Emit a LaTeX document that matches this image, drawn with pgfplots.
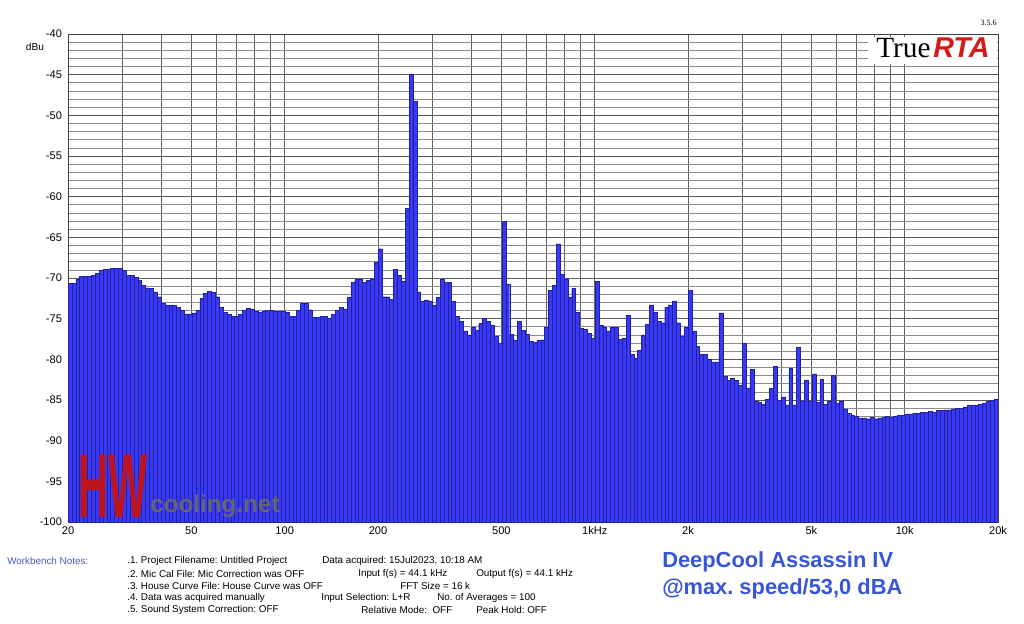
\documentclass[border=0pt]{standalone}
\usepackage{fontspec}
\setmainfont{Liberation Sans}
\newfontfamily\seriffont{Liberation Serif}
\usepackage{graphicx}
\usepackage{pgfplots}
\pgfplotsset{compat=1.18}
\usepackage{pgfplotstable}

\definecolor{barfill}{RGB}{56,56,248}
\definecolor{baredge}{RGB}{34,34,150}
\definecolor{notesblue}{RGB}{70,90,190}
\definecolor{titleblue}{RGB}{55,85,215}
\definecolor{rtared}{RGB}{215,25,25}
\definecolor{hwred}{RGB}{190,20,30}
\definecolor{hwgray}{RGB}{100,100,115}

% band index k (1/24 octave, 80 bands per decade from 20 Hz) and level in dBu
\pgfplotstableread{
k v
0 -70.7
1 -70.7
2 -70.2
3 -69.8
4 -69.8
5 -69.8
6 -69.7
7 -69.4
8 -69.1
9 -68.9
10 -68.9
11 -68.8
12 -68.8
13 -68.8
14 -69.1
15 -69.7
16 -69.7
17 -69.9
18 -70.3
19 -70.9
20 -71.2
21 -71.3
22 -71.7
23 -72.3
24 -73.1
25 -73.3
26 -73.3
27 -73.4
28 -73.6
29 -74.0
30 -74.4
31 -74.4
32 -74.3
33 -74.0
34 -72.5
35 -71.9
36 -71.6
37 -71.8
38 -72.3
39 -73.6
40 -74.2
41 -74.5
42 -74.7
43 -74.7
44 -74.5
45 -74.0
46 -73.7
47 -73.8
48 -74.1
49 -74.2
50 -74.1
51 -74.0
52 -74.0
53 -74.1
54 -74.1
55 -74.1
56 -74.2
57 -74.7
58 -74.7
59 -74.0
60 -73.1
61 -73.1
62 -73.9
63 -74.8
64 -74.8
65 -74.7
66 -74.7
67 -75.0
68 -74.5
69 -74.0
70 -73.6
71 -73.8
72 -72.4
73 -70.5
74 -70.2
75 -70.2
76 -70.5
77 -70.3
78 -70.1
79 -68.1
80 -66.4
81 -72.3
82 -72.3
83 -72.6
84 -68.9
85 -69.7
86 -70.4
87 -61.4
88 -44.9
89 -48.3
90 -71.7
91 -72.9
92 -72.7
93 -72.8
94 -73.4
95 -72.4
96 -70.2
97 -70.5
98 -70.5
99 -72.9
100 -74.7
101 -75.3
102 -76.5
103 -77.0
104 -76.1
105 -76.4
106 -75.6
107 -75.0
108 -75.3
109 -75.8
110 -77.2
111 -78.0
112 -63.0
113 -70.8
114 -76.9
115 -77.7
116 -75.3
117 -76.4
118 -76.9
119 -77.8
120 -77.9
121 -77.6
122 -77.6
123 -76.0
124 -71.5
125 -70.9
126 -65.8
127 -69.5
128 -70.2
129 -72.4
130 -71.3
131 -74.2
132 -76.2
133 -76.3
134 -76.8
135 -77.4
136 -70.4
137 -75.8
138 -76.0
139 -76.5
140 -76.1
141 -76.0
142 -77.5
143 -77.4
144 -74.6
145 -79.4
146 -79.9
147 -78.9
148 -77.0
149 -75.7
150 -73.3
151 -74.2
152 -75.3
153 -75.5
154 -73.6
155 -73.3
156 -72.8
157 -75.5
158 -77.1
159 -76.1
160 -71.5
161 -76.5
162 -78.4
163 -79.4
164 -79.4
165 -80.0
166 -80.3
167 -80.3
168 -74.3
169 -82.1
170 -82.6
171 -82.3
172 -82.6
173 -83.2
174 -78.0
175 -83.5
176 -81.2
177 -85.1
178 -85.3
179 -85.5
180 -84.9
181 -83.6
182 -80.9
183 -85.0
184 -84.6
185 -85.6
186 -81.1
187 -85.6
188 -78.5
189 -85.1
190 -82.6
191 -85.1
192 -81.8
193 -85.3
194 -82.5
195 -85.5
196 -85.2
197 -82.0
198 -85.4
199 -85.1
200 -86.1
201 -86.6
202 -86.9
203 -87.0
204 -87.2
205 -87.2
206 -87.3
207 -87.1
208 -87.3
209 -87.2
210 -87.1
211 -87.0
212 -87.1
213 -87.0
214 -86.9
215 -86.9
216 -86.7
217 -86.7
218 -86.6
219 -86.6
220 -86.5
221 -86.5
222 -86.4
223 -86.5
224 -86.3
225 -86.3
226 -86.2
227 -86.2
228 -86.1
229 -86.0
230 -86.0
231 -85.9
232 -85.6
233 -85.7
234 -85.6
235 -85.5
236 -85.4
237 -85.2
238 -85.0
239 -84.9
240 -84.9
}\spectrum

\begin{document}
\frenchspacing
\begin{tikzpicture}
\useasboundingbox (0,0) rectangle (768pt,-468pt);
\begin{axis}[
  at={(51pt,-391.5pt)}, anchor=south west,
  scale only axis, width=697.5pt, height=366pt,
  xmode=log, xmin=20, xmax=20000,
  ymin=-100, ymax=-40,
  y coord trafo/.code={\pgfmathparse{#1+100}},
  y coord inv trafo/.code={\pgfmathparse{#1-100}},
  ytick={-100,-95,-90,-85,-80,-75,-70,-65,-60,-55,-50,-45,-40},
  yticklabels={-100,-95,-90,-85,-80,-75,-70,-65,-60,-55,-50,-45,-40},
  minor ytick={-99,-98,-97,-96,-94,-93,-92,-91,-89,-88,-87,-86,-84,-83,-82,-81,-79,-78,-77,-76,-74,-73,-72,-71,-69,-68,-67,-66,-64,-63,-62,-61,-59,-58,-57,-56,-54,-53,-52,-51,-49,-48,-47,-46,-44,-43,-42,-41},
  xtick={20,50,100,200,500,1000,2000,5000,10000,20000},
  xticklabels={20,50,100,200,500,1kHz,2k,5k,10k,20k},
  minor xtick={30,40,60,70,80,90,300,400,600,700,800,900,3000,4000,6000,7000,8000,9000},
  grid=both,
  major x grid style={black!62,line width=0.55pt},
  minor x grid style={black!62,line width=0.55pt},
  major y grid style={black!65,line width=0.55pt},
  minor y grid style={black!45,line width=0.5pt},
  tick style={draw=none},
  axis line style={black!75,line width=0.6pt},
  tick label style={font=\fontsize{8.3pt}{10pt}\selectfont},
  yticklabel style={xshift=-1pt},
]
\addplot[ybar interval, fill=barfill, draw=baredge, line width=0.3pt]
  table[x expr={20*10^(\thisrow{k}/80)}, y=v]{\spectrum};
\end{axis}

\begin{scope}[x=0.75pt,y=-0.75pt]
\node[font=\fontsize{7.6pt}{9pt}\selectfont] at (35,47) {dBu};
\node[anchor=south east, inner sep=0, font=\seriffont\fontsize{6pt}{7pt}\selectfont] at (997,26) {3.5.6};
\fill[white] (868,37) rectangle (997,64);
\node[anchor=base west, inner sep=0, font=\seriffont\fontsize{22pt}{22pt}\selectfont] at (876,58) {True};
\node[anchor=base west, inner sep=0, font=\fontsize{21.5pt}{22pt}\selectfont\bfseries\itshape, text=rtared] at (933,58) {RTA};

\node[anchor=north west, inner sep=0, text=hwred] at (78,455) {\resizebox{52pt}{47pt}{\bfseries HW}};
\node[anchor=base west, inner sep=0, text=hwgray] at (150,512) {\resizebox{97pt}{!}{\bfseries cooling.net}};

\begin{scope}[every node/.style={anchor=west, inner sep=0, font=\fontsize{7.4pt}{9pt}\selectfont}]
\node[text=notesblue] at (7,561) {Workbench Notes:};
\node at (127,561) {.1. Project Filename: Untitled Project};
\node at (322,561) {Data acquired: 15Jul2023, 10:18 AM};
\node at (127,573.5) {.2. Mic Cal File: Mic Correction was OFF};
\node at (358,573.5) {Input f(s) = 44.1 kHz};
\node at (476,573.5) {Output f(s) = 44.1 kHz};
\node at (127,586) {.3. House Curve File: House Curve was OFF};
\node at (400,586) {FFT Size = 16 k};
\node at (127,598) {.4. Data was acquired manually};
\node at (321,598) {Input Selection: L+R};
\node at (437,598) {No. of Averages = 100};
\node at (127,610) {.5. Sound System Correction: OFF};
\node at (361,610) {Relative Mode:\ \ OFF};
\node at (476,610) {Peak Hold: OFF};
\end{scope}

\node[anchor=west, inner sep=0, text=titleblue, font=\fontsize{16.4pt}{18pt}\selectfont\bfseries] at (662,562) {DeepCool Assassin IV};
\node[anchor=west, inner sep=0, text=titleblue, font=\fontsize{16.4pt}{18pt}\selectfont\bfseries] at (662,589) {@max. speed/53,0 dBA};
\end{scope}
\end{tikzpicture}
\end{document}
